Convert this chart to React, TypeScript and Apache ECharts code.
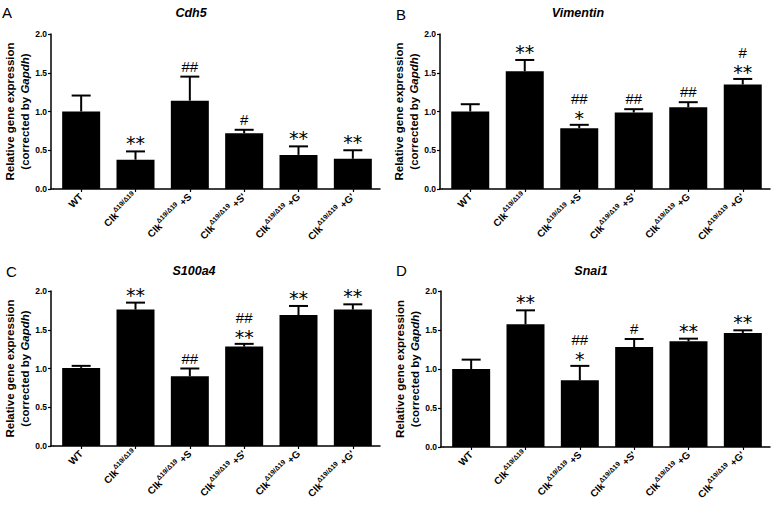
import React, { useEffect, useRef } from "react";
import * as echarts from "echarts";

const categories = ["WT", "Clk", "Clk +S", "Clk +S'", "Clk +G", "Clk +G'"];
const panelLetters = ["A", "B", "C", "D"];
const geneNames = ["Cdh5", "Vimentin", "S100a4", "Snai1"];

const cdh5Mean = [1.0, 0.378, 1.14, 0.72, 0.44, 0.39];
const cdh5Err = [0.206, 0.107, 0.31, 0.044, 0.11, 0.11];
const cdh5Near = ["", "**", "##", "#", "**", "**"];
const cdh5Far = ["", "", "", "", "", ""];

const vimMean = [1.0, 1.52, 0.785, 0.987, 1.056, 1.348];
const vimErr = [0.094, 0.145, 0.043, 0.043, 0.064, 0.072];
const vimNear = ["", "**", "*", "##", "##", "**"];
const vimFar = ["", "", "##", "", "", "#"];

const s100Mean = [1.008, 1.76, 0.9, 1.283, 1.69, 1.76];
const s100Err = [0.026, 0.09, 0.1, 0.035, 0.117, 0.068];
const s100Near = ["", "**", "##", "**", "**", "**"];
const s100Far = ["", "", "", "##", "", ""];

const snaiMean = [1.0, 1.573, 0.855, 1.282, 1.355, 1.462];
const snaiErr = [0.12, 0.179, 0.185, 0.103, 0.034, 0.034];
const snaiNear = ["", "**", "*", "#", "**", "**"];
const snaiFar = ["", "", "##", "", "", ""];

const FONT = "'Liberation Sans', Arial, sans-serif";
const STARFONT = "'DejaVu Sans', sans-serif";

export default function App() {
  const ref = useRef<HTMLDivElement>(null);
  useEffect(() => {
    if (!ref.current) return;
    const chart = echarts.init(ref.current, null, { renderer: "svg" });

    const panels = [
      { mean: cdh5Mean, err: cdh5Err, near: cdh5Near, far: cdh5Far, grid: { left: 54, top: 34, width: 326, height: 155 }, title: [191, 13], letter: [2, 5] },
      { mean: vimMean, err: vimErr, near: vimNear, far: vimFar, grid: { left: 443, top: 34, width: 327, height: 155 }, title: [578, 13], letter: [396, 7] },
      { mean: s100Mean, err: s100Err, near: s100Near, far: s100Far, grid: { left: 54, top: 291, width: 326, height: 155 }, title: [194, 271], letter: [6, 264] },
      { mean: snaiMean, err: snaiErr, near: snaiNear, far: snaiFar, grid: { left: 444, top: 291, width: 326, height: 156 }, title: [591, 271], letter: [396, 263] },
    ];

    const xLabelFmt = (v: string) => {
      if (v === "WT") return "{b|WT}";
      const rest = v.slice(3);
      return "{b|Clk}{s|Δ19/Δ19}" + (rest ? "{b|" + rest + "}" : "");
    };

    const grids: any[] = [];
    const xAxes: any[] = [];
    const yAxes: any[] = [];
    const series: any[] = [];
    const graphics: any[] = [];

    panels.forEach((p, k) => {
      grids.push(p.grid);
      xAxes.push({
        type: "category",
        gridIndex: k,
        data: categories,
        axisLine: { lineStyle: { color: "#000", width: 1.5 } },
        axisTick: { show: true, alignWithLabel: true, length: 3, lineStyle: { color: "#000", width: 1.2 } },
        axisLabel: {
          interval: 0,
          rotate: 45,
          margin: 6,
          formatter: xLabelFmt,
          rich: {
            b: { fontSize: 10, fontWeight: "bold", fontFamily: FONT, color: "#000", lineHeight: 15 },
            s: { fontSize: 6.8, fontWeight: "bold", fontFamily: FONT, color: "#000", verticalAlign: "top", lineHeight: 8 },
          },
        },
      });
      yAxes.push({
        type: "value",
        gridIndex: k,
        min: 0,
        max: 2,
        interval: 0.5,
        offset: 3,
        splitLine: { show: false },
        axisLine: { show: true, lineStyle: { color: "#000", width: 1.5 } },
        axisTick: { show: true, length: 3, lineStyle: { color: "#000", width: 1.2 } },
        axisLabel: {
          margin: 4,
          fontSize: 8.5,
          fontWeight: "bold",
          fontFamily: FONT,
          color: "#000",
          formatter: (v: number) => v.toFixed(1),
        },
        name: "{a|Relative gene expression}\n{a|(corrected by }{i|Gapdh}{a|)}",
        nameLocation: "middle",
        nameRotate: 90,
        nameGap: 17,
        nameTextStyle: {
          rich: {
            a: { fontSize: 11.5, fontWeight: "bold", fontFamily: FONT, color: "#000", lineHeight: 15.5 },
            i: { fontSize: 11.5, fontWeight: "bold", fontStyle: "italic", fontFamily: FONT, color: "#000", lineHeight: 15.5 },
          },
        },
      });
      series.push({
        type: "bar",
        xAxisIndex: k,
        yAxisIndex: k,
        data: p.mean,
        barWidth: 38,
        itemStyle: { color: "#000" },
        silent: true,
      });
      series.push({
        type: "custom",
        xAxisIndex: k,
        yAxisIndex: k,
        data: p.mean.map((m, i) => [i, m, p.err[i]]),
        encode: { x: 0, y: 1 },
        clip: false,
        z: 5,
        renderItem: (params: any, api: any) => {
          const i = api.value(0);
          const m = api.value(1);
          const e = api.value(2);
          const base = api.coord([i, m]);
          const top = api.coord([i, m + e]);
          const cx = top[0];
          const cap = top[1];
          const children: any[] = [
            { type: "line", shape: { x1: base[0], y1: base[1], x2: cx, y2: cap }, style: { stroke: "#000", lineWidth: 2 } },
            { type: "line", shape: { x1: cx - 9.5, y1: cap, x2: cx + 9.5, y2: cap }, style: { stroke: "#000", lineWidth: 2 } },
          ];
          const near = p.near[params.dataIndex];
          const far = p.far[params.dataIndex];
          if (near) {
            const star = near.indexOf("*") >= 0;
            if (star) {
              children.push({
                type: "text",
                x: cx,
                y: far ? cap - 6.5 : cap - 8,
                style: { text: near, fontSize: 19, fontFamily: STARFONT, fill: "#000", align: "center", verticalAlign: "middle" },
              });
            } else {
              children.push({
                type: "text",
                x: cx,
                y: cap - 10.5,
                style: { text: near, fontSize: 15, fontFamily: FONT, fill: "#000", align: "center", verticalAlign: "middle" },
              });
            }
            if (far) {
              children.push({
                type: "text",
                x: cx,
                y: cap - 26,
                style: { text: far, fontSize: 15, fontFamily: FONT, fill: "#000", align: "center", verticalAlign: "middle" },
              });
            }
          }
          return { type: "group", children };
        },
      });
      const g = p.grid;
      graphics.push({
        type: "line",
        shape: { x1: g.left - 3.75, y1: g.top + g.height, x2: g.left, y2: g.top + g.height },
        style: { stroke: "#000", lineWidth: 1.5 },
      });
      graphics.push({
        type: "text",
        x: p.title[0],
        y: p.title[1],
        style: { text: geneNames[k], fontSize: 12.5, fontWeight: "bold", fontStyle: "italic", fontFamily: FONT, fill: "#000", align: "center", verticalAlign: "middle" },
      });
      graphics.push({
        type: "text",
        x: p.letter[0],
        y: p.letter[1],
        style: { text: panelLetters[k], fontSize: 15, fontFamily: FONT, fill: "#000", align: "left", verticalAlign: "top" },
      });
    });

    chart.setOption({
      animation: false,
      backgroundColor: "#fff",
      grid: grids,
      xAxis: xAxes,
      yAxis: yAxes,
      series,
      graphic: graphics,
    });
    return () => chart.dispose();
  }, []);
  return <div ref={ref} style={{ position: "absolute", left: 0, top: 0, width: 779, height: 508 }} />;
}
